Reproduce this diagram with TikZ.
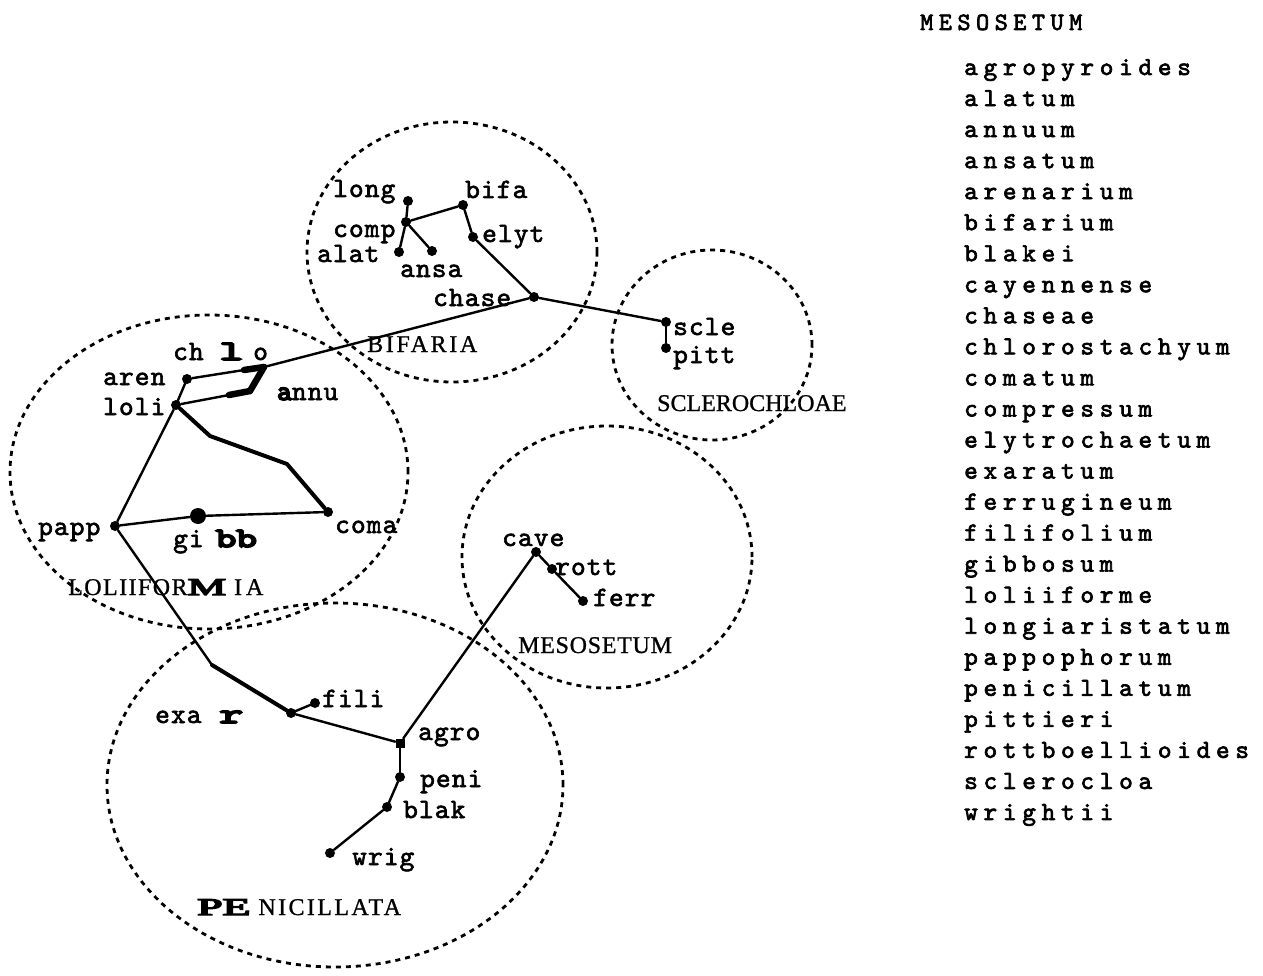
\documentclass[tikz,border=0pt]{standalone}
\usepackage{graphicx}
\usepackage{fontspec}
\setmainfont{Liberation Serif}
\newfontfamily\tw{lmmono10-regular.otf}[FakeBold=2.2,LetterSpace=4]
\newfontfamily\twx{lmmono10-regular.otf}[FakeBold=6]
\newfontfamily\twl{lmmono10-regular.otf}[FakeBold=2.6,LetterSpace=22]
\newfontfamily\twh{lmmono10-regular.otf}[FakeBold=2.6,LetterSpace=22]
\newfontfamily\sfc{Liberation Serif}[FakeBold=0.9]
\newfontfamily\sfcx{Liberation Serif}[FakeBold=5]
\begin{document}
\begin{tikzpicture}[x=1pt,y=-1pt,
  dot/.style={circle,fill=black,inner sep=0pt,minimum size=10pt},
  edge/.style={line width=2.4pt,line cap=round,line join=round},
  heavy/.style={line width=6.5pt,line cap=round,line join=round},
  semiheavy/.style={line width=4pt,line cap=round,line join=round},
  grp/.style={line width=2.8pt,dash pattern=on 5pt off 5pt},
  lab/.style={inner sep=0pt,anchor=base west,font=\tw\fontsize{28pt}{30pt}\selectfont},
  clab/.style={inner sep=0pt,anchor=base west,font=\sfc\fontsize{24pt}{28pt}\selectfont},
  listlab/.style={inner sep=0pt,anchor=base west,font=\twl\fontsize{26pt}{28pt}\selectfont},
  head/.style={inner sep=0pt,anchor=base west,font=\twh\fontsize{25pt}{28pt}\selectfont}]
\useasboundingbox (0,0) rectangle (1263,976);

% group outlines
\draw[grp] (452,252) ellipse [x radius=145pt, y radius=130pt];
\draw[grp] (209,472) ellipse [x radius=199pt, y radius=157pt];
\draw[grp] (712,345) ellipse [x radius=100pt, y radius=95pt];
\draw[grp] (607,557) ellipse [x radius=145pt, y radius=131pt];
\draw[grp] (335,785) ellipse [x radius=228pt, y radius=182pt];

% dots
\node[dot] (long) at (408,201) {};
\node[dot] (comp) at (406,222) {};
\node[dot] (alat) at (399,252) {};
\node[dot] (ansa) at (432,251) {};
\node[dot] (bifa) at (463,205) {};
\node[dot] (elyt) at (473,237) {};
\node[dot] (chase) at (534,297) {};
\node[dot] (scle) at (666,322) {};
\node[dot] (pitt) at (666,348) {};
\node[dot] (cave) at (536,552) {};
\node[dot] (rott) at (552,569) {};
\node[dot] (ferr) at (583,601) {};
\node[dot] (aren) at (187,379) {};
\node[dot] (loli) at (176,405) {};
\node[dot] (papp) at (115,526) {};
\node[dot,minimum width=16pt] (gibb) at (198,516) {};
\node[dot] (coma) at (328,512) {};
\node[dot] (exar) at (291,713) {};
\node[dot] (fili) at (315,703) {};
\node[dot,rectangle,minimum size=9pt] (agro) at (400,743) {};
\node[dot] (peni) at (400,777) {};
\node[dot] (blak) at (387,807) {};
\node[dot] (wrig) at (330,853) {};
\coordinate (chlo) at (264,367);
\coordinate (chloL) at (244,370);
\coordinate (annu) at (250,391);
\coordinate (annuL) at (229,395);
\coordinate (lc1) at (210,436);
\coordinate (lc2) at (287,464);
\coordinate (pe1) at (212,665);

% connectors
\draw[edge] (long) -- (comp);
\draw[edge] (comp) -- (alat);
\draw[edge] (comp) -- (ansa);
\draw[edge] (comp) -- (bifa);
\draw[edge] (bifa) -- (elyt);
\draw[edge] (elyt) -- (chase);
\draw[edge] (chase) -- (scle);
\draw[edge] (scle) -- (pitt);
\draw[edge] (chase) -- (chlo);
\draw[edge] (aren) -- (chloL);
\draw[heavy] (chloL) -- (chlo);
\draw[heavy] (chlo) -- (annu);
\draw[heavy] (annu) -- (annuL);
\draw[edge] (annuL) -- (loli);
\draw[edge] (aren) -- (loli);
\draw[semiheavy] (loli) -- (lc1) -- (lc2) -- (coma);
\draw[edge] (loli) -- (papp);
\draw[edge] (papp) -- (gibb);
\draw[edge] (gibb) -- (coma);
\draw[edge] (papp) -- (pe1);
\draw[semiheavy] (pe1) -- (exar);
\draw[edge] (exar) -- (fili);
\draw[edge] (exar) -- (agro);
\draw[edge] (agro) -- (cave);
\draw[edge] (cave) -- (rott);
\draw[edge] (rott) -- (ferr);
\draw[edge] (agro) -- (peni);
\draw[edge] (peni) -- (blak);
\draw[edge] (blak) -- (wrig);

% node labels
\node[lab] (tlong) at (333,197) {long};
\node[lab] (tbifa) at (465,198) {bifa};
\node[lab] (tcomp) at (333,237) {comp};
\node[lab] (talat) at (317,262) {alat};
\node[lab] (tansa) at (400,277) {ansa};
\node[lab] (telyt) at (482,242) {elyt};
\node[lab] (tchase) at (433,306) {chase};
\node[lab] (tscle) at (673,335) {scle};
\node[lab] (tpitt) at (673,363) {pitt};
\node[lab] (tcave) at (502,546) {cave};
\node[lab] (trott) at (555,575) {rott};
\node[lab] (tferr) at (593,606) {ferr};
\node[lab] (tchlo) at (173,360) {ch\hspace{16pt}{\twx\scalebox{1.6}[1]{l}}\hspace{10pt}o};
\node[lab] (taren) at (103,385) {aren};
\node[lab] (tloli) at (103,415) {loli};
\node[lab] (tannu) at (277,400) {{\twx a}nnu};
\node[lab] (tpapp) at (38,535) {papp};
\node[lab] (tcoma) at (335,533) {coma};
\node[lab] (tgibb) at (173,547) {gi\hspace{12pt}{\twx\scalebox{1.4}[1]{bb}}};
\node[lab] (texar) at (155,723) {exa\hspace{18pt}{\twx\scalebox{1.6}[1]{r}}};
\node[lab] (tfili) at (322,707) {fili};
\node[lab] (tagro) at (418,740) {agro};
\node[lab] (tpeni) at (420,787) {peni};
\node[lab] (tblak) at (403,818) {blak};
\node[lab] (twrig) at (352,865) {wrig};

% group labels
\node[clab] (gbif) at (367,352) {\addfontfeatures{LetterSpace=11}BIFARIA};
\node[clab] (gscl) at (657,411) {SCLEROCHLOAE};
\node[clab] (gmes) at (518,653) {\addfontfeatures{LetterSpace=3}MESOSETUM};
\node[clab] (glol) at (68,595) {\addfontfeatures{LetterSpace=6}LOLIIFOR{\sfcx\scalebox{1.8}[1]{M}}\hspace{8pt}I\hspace{4pt}A};
\node[clab] (gpen) at (197,915) {{\sfcx\scalebox{1.9}[1]{PE}}\hspace{8pt}\addfontfeatures{LetterSpace=10}NICILLATA};

% list
\node[head] (lhead) at (920,30) {MESOSETUM};
\foreach \t [count=\i] in {agropyroides,alatum,annuum,ansatum,arenarium,bifarium,blakei,cayennense,chaseae,chlorostachyum,comatum,compressum,elytrochaetum,exaratum,ferrugineum,filifolium,gibbosum,loliiforme,longiaristatum,pappophorum,penicillatum,pittieri,rottboellioides,sclerocloa,wrightii}
  \node[listlab] (item\i) at (964,{75+31.04*(\i-1)}) {\t};
\end{tikzpicture}
\end{document}
